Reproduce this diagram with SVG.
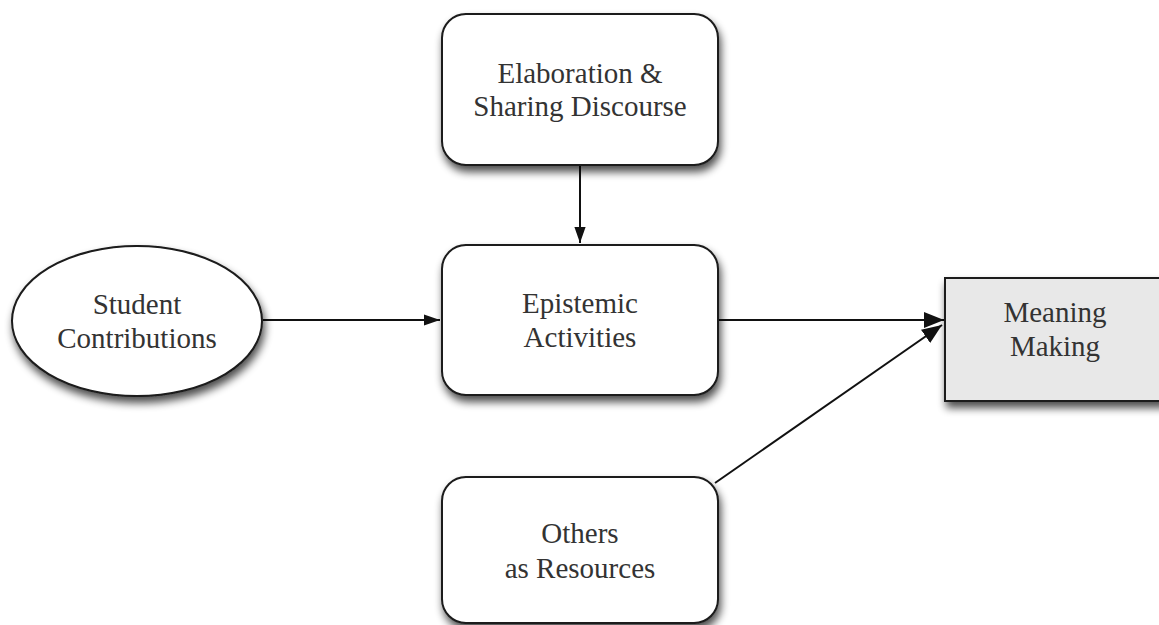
<svg xmlns="http://www.w3.org/2000/svg" width="1159" height="625" viewBox="0 0 1159 625">
<defs>
<style>
.node{fill:#fff;stroke:#1a1a1a;stroke-width:2;filter:url(#sh)}
.grey{fill:#e8e8e8}
.lbl{font-family:"Liberation Serif","DejaVu Serif",serif;font-size:29px;fill:#333;text-anchor:middle}
.edge{stroke:#111;stroke-width:2;fill:none}
</style>
<filter id="sh" x="-20%" y="-20%" width="140%" height="150%">
<feGaussianBlur in="SourceAlpha" stdDeviation="4"/>
<feOffset dx="2" dy="6" result="b"/>
<feComponentTransfer><feFuncA type="linear" slope="0.7"/></feComponentTransfer>
<feMerge><feMergeNode/><feMergeNode in="SourceGraphic"/></feMerge>
</filter>
<marker id="ah2" viewBox="0 0 10 10" refX="10" refY="5" markerWidth="20" markerHeight="20" markerUnits="userSpaceOnUse" orient="auto">
<path d="M0,1 L10,5 L0,9 Z" fill="#111"/>
</marker>
<marker id="ah1" viewBox="0 0 10 10" refX="10" refY="5" markerWidth="16" markerHeight="16" markerUnits="userSpaceOnUse" orient="auto">
<path d="M0,1.5 L10,5 L0,8.5 Z" fill="#111"/>
</marker>
</defs>
<g id="connectors">
<line class="edge" x1="580" y1="166" x2="580" y2="243" marker-end="url(#ah1)"/>
<line class="edge" x1="263" y1="320" x2="440" y2="320" marker-end="url(#ah1)"/>
<line class="edge" x1="718" y1="320" x2="944" y2="320" marker-end="url(#ah2)"/>
<line class="edge" x1="715" y1="483" x2="942" y2="325" marker-end="url(#ah2)"/>
</g>
<g id="elaboration">
<rect class="node" x="442" y="14" width="276" height="151" rx="24"/>
<text class="lbl" x="580" y="83">Elaboration &amp;</text>
<text class="lbl" x="580" y="116">Sharing Discourse</text>
</g>
<g id="epistemic">
<rect class="node" x="442" y="245" width="276" height="150" rx="24"/>
<text class="lbl" x="580" y="313">Epistemic</text>
<text class="lbl" x="580" y="347">Activities</text>
</g>
<g id="student">
<ellipse class="node" cx="137" cy="321" rx="125" ry="75"/>
<text class="lbl" x="137" y="314">Student</text>
<text class="lbl" x="137" y="348">Contributions</text>
</g>
<g id="meaning">
<rect class="node grey" x="945" y="278" width="220" height="123"/>
<text class="lbl" x="1055" y="322">Meaning</text>
<text class="lbl" x="1055" y="356">Making</text>
</g>
<g id="others">
<rect class="node" x="442" y="477" width="276" height="146" rx="24"/>
<text class="lbl" x="580" y="543">Others</text>
<text class="lbl" x="580" y="578">as Resources</text>
</g>
</svg>
